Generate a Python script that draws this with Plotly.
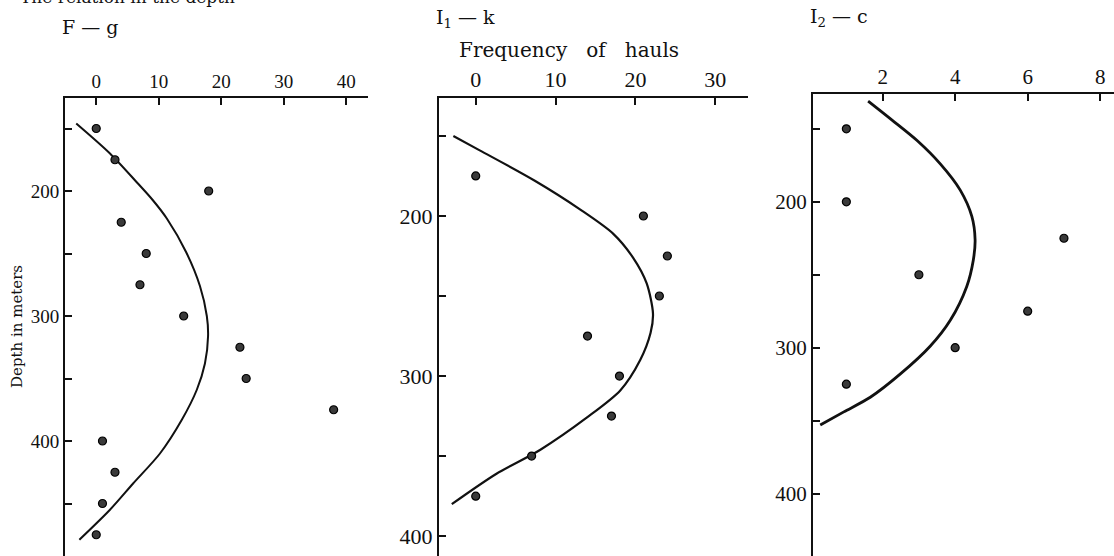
import plotly.graph_objects as go

W, H = 1114, 556

# ---- Data: panel F-g ----
fg_freq = [0, 3, 18, 4, 8, 7, 14, 23, 24, 38, 1, 3, 1, 0]
fg_depth = [150, 175, 200, 225, 250, 275, 300, 325, 350, 375, 400, 425, 450, 475]
fg_curve_x = [-3.2, 2.2, 6.3, 9.0, 11.3, 14.4, 16.6, 17.7, 17.9, 17.4, 16.1, 13.7, 10.2, 5.9, 2.2, -2.7]
fg_curve_d = [146, 170, 192, 207, 222, 249, 276, 300, 316, 338, 359, 383, 410, 434, 455, 479]

# ---- Data: panel I1-k ----
i1_freq = [0, 21, 24, 23, 14, 18, 17, 7, 0]
i1_depth = [175, 200, 225, 250, 275, 300, 325, 350, 375]
i1_curve_x = [-2.8, 0.5, 7.4, 13.1, 17.2, 19.7, 21.4, 22.2, 21.9, 20.6, 18.1, 13.9, 8.1, 2.6, -3.0]
i1_curve_d = [150, 159, 178, 196, 211, 226, 242, 261, 273, 290, 309, 326, 346, 361, 380]

# ---- Data: panel I2-c ----
i2_freq = [1, 1, 7, 3, 6, 4, 1]
i2_depth = [150, 200, 225, 250, 275, 300, 325]
i2_curve_x = [1.6, 2.26, 2.95, 3.59, 4.14, 4.46, 4.55, 4.5, 4.32, 3.87, 3.31, 2.49, 1.66, 0.93, 0.28]
i2_curve_d = [131, 144, 158, 174, 192, 210, 226, 240, 258, 281, 299, 318, 334, 344, 353]

# Ticks
depth_major = [200, 300, 400]
depth_minor = [150, 250, 350, 450]
fg_xticks = [0, 10, 20, 30, 40]
i1_xticks = [0, 10, 20, 30]
i2_xticks = [2, 4, 6, 8]

FONT = "Liberation Serif"
TFONT = "DejaVu Serif"

def px_x(a, b):
    return [a / W, b / W]

def px_y(top, bottom):
    return [1 - bottom / H, 1 - top / H]

panels = [
    dict(fx=fg_freq, fd=fg_depth, cx=fg_curve_x, cd=fg_curve_d,
         xdom=px_x(65, 368), ydom=px_y(98, 556), xr=[-5, 43.5], yr=[492, 125.6],
         xt=fg_xticks, fs=19, lw=2.0),
    dict(fx=i1_freq, fd=i1_depth, cx=i1_curve_x, cd=i1_curve_d,
         xdom=px_x(439, 748), ydom=px_y(98, 556), xr=[-4.6, 34.1], yr=[412.4, 126.3],
         xt=i1_xticks, fs=22, lw=2.2),
    dict(fx=i2_freq, fd=i2_depth, cx=i2_curve_x, cd=i2_curve_d,
         xdom=px_x(813, 1114), ydom=px_y(94, 556), xr=[0.08, 8.38], yr=[442.8, 126.1],
         xt=i2_xticks, fs=21, lw=2.8),
]

fig = go.Figure()
layout = dict(
    width=W, height=H, margin=dict(l=0, r=0, t=0, b=0),
    paper_bgcolor="white", plot_bgcolor="white", showlegend=False,
    font=dict(family=FONT, color="#111", size=14),
)

for i, p in enumerate(panels, start=1):
    xa = "x" if i == 1 else f"x{i}"
    ya = "y" if i == 1 else f"y{i}"
    fig.add_trace(go.Scatter(
        x=p["cx"], y=p["cd"], mode="lines", xaxis=xa, yaxis=ya,
        line=dict(color="#111", width=p["lw"], shape="spline", smoothing=0.8),
        hoverinfo="skip"))
    fig.add_trace(go.Scatter(
        x=p["fx"], y=p["fd"], mode="markers", xaxis=xa, yaxis=ya,
        marker=dict(size=8, color="#3a3a3a", line=dict(color="#000", width=1.2))))
    xkey = "xaxis" if i == 1 else f"xaxis{i}"
    ykey = "yaxis" if i == 1 else f"yaxis{i}"
    layout[xkey] = dict(
        domain=p["xdom"], range=p["xr"], anchor=ya, side="top",
        tickvals=p["xt"], ticks="inside", ticklen=7, tickwidth=2, tickcolor="#111",
        showline=True, linecolor="#111", linewidth=2, showgrid=False, zeroline=False,
        tickfont=dict(family=FONT, size=p["fs"], color="#111"), fixedrange=True)
    layout[ykey] = dict(
        domain=p["ydom"], range=p["yr"], anchor=xa,
        tickvals=depth_major, ticks="inside", ticklen=7,
        tickwidth=2, tickcolor="#111",
        minor=dict(tickvals=depth_minor, ticks="inside", ticklen=7, tickwidth=2,
                   tickcolor="#111", showgrid=False),
        showline=True, linecolor="#111", linewidth=2, showgrid=False, zeroline=False,
        tickfont=dict(family=FONT, size=p["fs"], color="#111"), fixedrange=True)

fig.update_layout(**layout)

def ann(text, x, y, size, xanchor="left", yanchor="middle", angle=0, family=TFONT):
    fig.add_annotation(text=text, x=x / W, y=1 - y / H, xref="paper", yref="paper",
                       xanchor=xanchor, yanchor=yanchor, showarrow=False, textangle=angle,
                       font=dict(family=family, size=size, color="#111"))

NB = "\u00a0"
ann("The relation in the depth", 18, 9, 17, yanchor="bottom")
ann("F" + NB + "\u2014" + NB + "g", 60, 27, 19)
ann("I<sub>1</sub>" + NB + "\u2014" + NB + "k", 434, 18, 19)
ann("Frequency" + NB * 3 + "of" + NB * 3 + "hauls", 457, 50, 20)
ann("I<sub>2</sub>" + NB + "\u2014" + NB + "c", 808, 17, 19)
ann("Depth in meters", 17, 327, 15, xanchor="center", angle=-90)

fig.write_html("out.html")
